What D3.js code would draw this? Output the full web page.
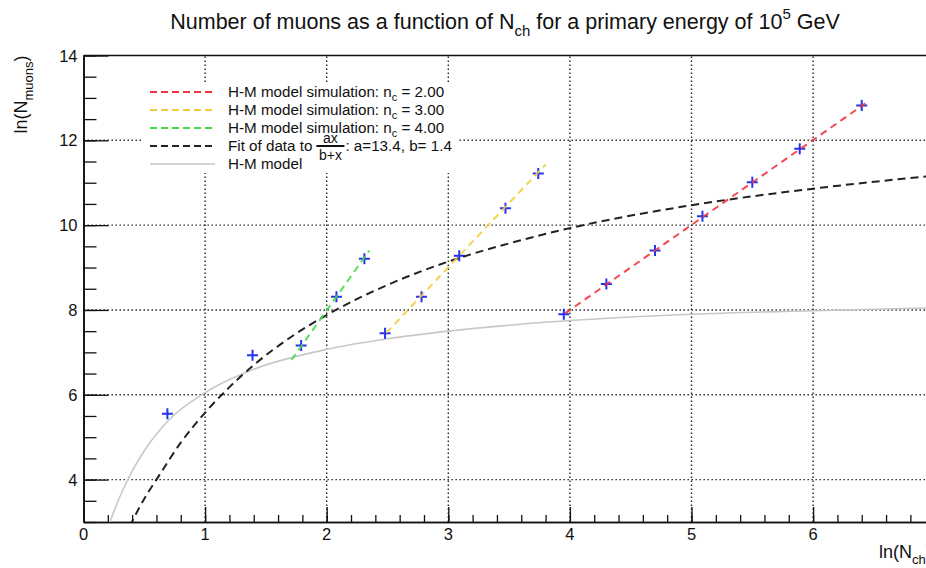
<!DOCTYPE html>
<html>
<head>
<meta charset="utf-8">
<script src="https://cdn.jsdelivr.net/npm/d3@7"></script>
<style>
    body { margin: 0; background: #fff; }
    svg { display: block; font-family: "Liberation Sans", Arial, Helvetica, sans-serif; }
</style>
</head>
<body>
<div id="chart"></div>
<script>
// values
const xMajorTicks = [0, 1, 2, 3, 4, 5, 6];
const yMajorTicks = [4, 6, 8, 10, 12, 14];

// blue "+" markers
const pointsX = [0.69, 1.39, 1.79, 2.08, 2.31, 2.48, 2.78, 3.09, 3.47, 3.74, 3.95, 4.30, 4.70, 5.09, 5.50, 5.89, 6.40];
const pointsY = [5.55, 6.93, 7.16, 8.31, 9.21, 7.45, 8.31, 9.28, 10.40, 11.22, 7.90, 8.61, 9.40, 10.21, 11.01, 11.80, 12.82];

// H-M model simulation lines (start / end)
const simLabels = ['2.00', '3.00', '4.00'];
const simColors = ['#f2343f', '#f3cc3c', '#46dc46'];
const simX = [[3.96, 6.43], [2.49, 3.80], [1.71, 2.35]];
const simY = [[7.92, 12.87], [7.46, 11.43], [6.82, 9.40]];

// fit of data to ax/(b+x)
const fitX = [0.38, 0.5, 0.6, 0.8, 1.0, 1.2, 1.4, 1.7, 2.0, 2.5, 3.0, 3.5, 4.0, 5.0, 6.0, 7.0];
const fitY = [2.9, 3.55, 4.0, 4.87, 5.58, 6.18, 6.7, 7.35, 7.88, 8.59, 9.14, 9.57, 9.93, 10.47, 10.86, 11.17];

// H-M model curve
const hmX = [0.21, 0.3, 0.4, 0.5, 0.7, 1.0, 1.4, 2.0, 2.5, 3.0, 4.0, 5.0, 6.0, 7.0];
const hmY = [2.95, 3.6, 4.2, 4.68, 5.4, 6.05, 6.6, 7.07, 7.32, 7.5, 7.75, 7.9, 7.98, 8.05];

const width = 926,
    height = 568;

const svg = d3.select('#chart').append('svg')
    .attr('width', width)
    .attr('height', height);

const xScale = d3.scaleLinear()
    .domain([0, 7])
    .range([83.5, 934.7]);

const yScale = d3.scaleLinear()
    .domain([3, 14])
    .range([522, 55.5]);

const plotLeft = xScale.range()[0],
    plotRight = xScale.range()[1],
    plotTop = yScale.range()[1],
    plotBottom = yScale.range()[0];

svg.append('clipPath').attr('id', 'plot-clip')
    .append('rect')
    .attr('x', plotLeft).attr('y', plotTop)
    .attr('width', plotRight - plotLeft).attr('height', plotBottom - plotTop);

// dotted grid on the major ticks
const grid = svg.append('g').attr('class', 'grid')
    .attr('stroke', '#222')
    .attr('stroke-width', 1.4)
    .attr('stroke-dasharray', '1.4 2.6');

grid.selectAll('.gx')
    .data(xMajorTicks.filter(d => d > 0))
    .enter().append('line')
    .attr('x1', d => xScale(d)).attr('x2', d => xScale(d))
    .attr('y1', plotBottom).attr('y2', plotTop);

grid.selectAll('.gy')
    .data(yMajorTicks.filter(d => d < 14))
    .enter().append('line')
    .attr('x1', plotLeft).attr('x2', plotRight)
    .attr('y1', d => yScale(d)).attr('y2', d => yScale(d));

// axes: ROOT style ticks pointing inside
const xAxis = d3.axisTop(xScale)
    .tickValues(xMajorTicks)
    .tickFormat('')
    .tickSize(15)
    .tickSizeOuter(0);

const xMinor = d3.axisTop(xScale)
    .tickValues(d3.range(0, 7.01, 0.2))
    .tickFormat('')
    .tickSize(7)
    .tickSizeOuter(0);

const yAxis = d3.axisRight(yScale)
    .tickValues(yMajorTicks)
    .tickFormat('')
    .tickSize(25)
    .tickSizeOuter(0);

const yMinor = d3.axisRight(yScale)
    .tickValues(d3.range(3, 14.01, 0.5))
    .tickFormat('')
    .tickSize(13)
    .tickSizeOuter(0);

[[xAxis, `translate(0,${plotBottom})`], [xMinor, `translate(0,${plotBottom})`],
 [yAxis, `translate(${plotLeft},0)`], [yMinor, `translate(${plotLeft},0)`]].forEach(([ax, tr]) => {
    const g = svg.append('g').attr('transform', tr).call(ax);
    g.selectAll('line').attr('stroke', '#111').attr('stroke-width', 1.3);
    g.select('.domain').attr('stroke', '#111').attr('stroke-width', 1.6);
});

// top frame line
svg.append('line')
    .attr('x1', plotLeft).attr('x2', plotRight)
    .attr('y1', plotTop).attr('y2', plotTop)
    .attr('stroke', '#111').attr('stroke-width', 1.6);

// tick labels
svg.append('g').selectAll('text')
    .data(xMajorTicks)
    .enter().append('text')
    .attr('x', d => xScale(d))
    .attr('y', plotBottom + 18)
    .attr('text-anchor', 'middle')
    .attr('font-size', 16.5)
    .attr('fill', '#111')
    .text(d => d);

svg.append('g').selectAll('text')
    .data(yMajorTicks)
    .enter().append('text')
    .attr('x', plotLeft - 6)
    .attr('y', d => yScale(d) + 6)
    .attr('text-anchor', 'end')
    .attr('font-size', 16.5)
    .attr('fill', '#111')
    .text(d => d);

// plot content
const plot = svg.append('g').attr('clip-path', 'url(#plot-clip)');

const line = d3.line()
    .x(d => xScale(d[0]))
    .y(d => yScale(d[1]))
    .curve(d3.curveMonotoneX);

plot.append('path')
    .datum(d3.zip(hmX, hmY))
    .attr('d', line)
    .attr('fill', 'none')
    .attr('stroke', '#c8c8c8')
    .attr('stroke-width', 1.6);

const markerArm = 5.5;
plot.append('g').selectAll('path')
    .data(d3.zip(pointsX, pointsY))
    .enter().append('path')
    .attr('d', d => {
        const cx = xScale(d[0]), cy = yScale(d[1]);
        return `M${cx - markerArm},${cy}H${cx + markerArm}M${cx},${cy - markerArm}V${cy + markerArm}`;
    })
    .attr('stroke', '#2433ee')
    .attr('stroke-width', 2);

plot.append('path')
    .datum(d3.zip(fitX, fitY))
    .attr('d', line)
    .attr('fill', 'none')
    .attr('stroke', '#222')
    .attr('stroke-width', 2)
    .attr('stroke-dasharray', '8 5');

plot.append('g').selectAll('path')
    .data(simX.map((xs, i) => d3.zip(xs, simY[i])))
    .enter().append('path')
    .attr('d', d3.line().x(d => xScale(d[0])).y(d => yScale(d[1])))
    .attr('fill', 'none')
    .attr('stroke', (d, i) => simColors[i])
    .attr('stroke-width', 2)
    .attr('stroke-dasharray', '7 5')
    .attr('opacity', 0.9);

// legend
const legend = svg.append('g').attr('class', 'legend');

legend.append('rect')
    .attr('x', 143).attr('y', 83)
    .attr('width', 315).attr('height', 90)
    .attr('fill', '#fff');

const rowY = [92, 110, 128, 146, 164];
const sampleX1 = 150, sampleX2 = 215, textX = 228;
const legendFont = 15.2;

simLabels.forEach((label, i) => {
    legend.append('line')
        .attr('x1', sampleX1).attr('x2', sampleX2)
        .attr('y1', rowY[i]).attr('y2', rowY[i])
        .attr('stroke', simColors[i]).attr('stroke-width', 2)
        .attr('stroke-dasharray', '7 4');
    const t = legend.append('text')
        .attr('x', textX).attr('y', rowY[i] + 5)
        .attr('font-size', legendFont).attr('fill', '#111');
    t.append('tspan').text('H-M model simulation: n');
    t.append('tspan').attr('font-size', 11).attr('dy', 4).text('c');
    t.append('tspan').attr('dy', -4).text(` = ${label}`);
});

legend.append('line')
    .attr('x1', sampleX1).attr('x2', sampleX2)
    .attr('y1', rowY[3]).attr('y2', rowY[3])
    .attr('stroke', '#222').attr('stroke-width', 2)
    .attr('stroke-dasharray', '7 4');

const fitText = legend.append('text')
    .attr('x', textX).attr('y', rowY[3] + 5)
    .attr('font-size', legendFont).attr('fill', '#111')
    .text('Fit of data to');
const fracX = textX + fitText.node().getComputedTextLength() + 4;
legend.append('line')
    .attr('x1', fracX).attr('x2', fracX + 28)
    .attr('y1', rowY[3]).attr('y2', rowY[3])
    .attr('stroke', '#111').attr('stroke-width', 2);
legend.append('text')
    .attr('x', fracX + 14).attr('y', rowY[3] - 3)
    .attr('text-anchor', 'middle')
    .attr('font-size', 14).attr('fill', '#111')
    .text('ax');
legend.append('text')
    .attr('x', fracX + 14).attr('y', rowY[3] + 14)
    .attr('text-anchor', 'middle')
    .attr('font-size', 14).attr('fill', '#111')
    .text('b+x');
legend.append('text')
    .attr('x', fracX + 29).attr('y', rowY[3] + 5)
    .attr('font-size', legendFont).attr('fill', '#111')
    .text(': a=13.4, b= 1.4');

legend.append('line')
    .attr('x1', sampleX1).attr('x2', sampleX2)
    .attr('y1', rowY[4]).attr('y2', rowY[4])
    .attr('stroke', '#c8c8c8').attr('stroke-width', 1.6);
legend.append('text')
    .attr('x', textX).attr('y', rowY[4] + 5)
    .attr('font-size', legendFont).attr('fill', '#111')
    .text('H-M model');

// title
const title = svg.append('text')
    .attr('x', 505).attr('y', 29)
    .attr('text-anchor', 'middle')
    .attr('font-size', 21.5).attr('fill', '#111');
title.append('tspan').text('Number of muons as a function of N');
title.append('tspan').attr('font-size', 15).attr('dy', 7).text('ch');
title.append('tspan').attr('dy', -7).text(' for a primary energy of 10');
title.append('tspan').attr('font-size', 15).attr('dy', -10).text('5');
title.append('tspan').attr('dy', 10).text(' GeV');

// axis titles
const xTitle = svg.append('text')
    .attr('x', plotRight - 3).attr('y', 558)
    .attr('text-anchor', 'end')
    .attr('font-size', 18).attr('fill', '#111');
xTitle.append('tspan').text('ln(N');
xTitle.append('tspan').attr('font-size', 13).attr('dy', 6).text('ch');
xTitle.append('tspan').attr('dy', -6).text(')');

const yTitle = svg.append('text')
    .attr('transform', `translate(27,${plotTop}) rotate(-90)`)
    .attr('text-anchor', 'end')
    .attr('font-size', 18).attr('fill', '#111');
yTitle.append('tspan').text('ln(N');
yTitle.append('tspan').attr('font-size', 13).attr('dy', 6).text('muons');
yTitle.append('tspan').attr('dy', -6).text(')');
</script>
</body>
</html>
